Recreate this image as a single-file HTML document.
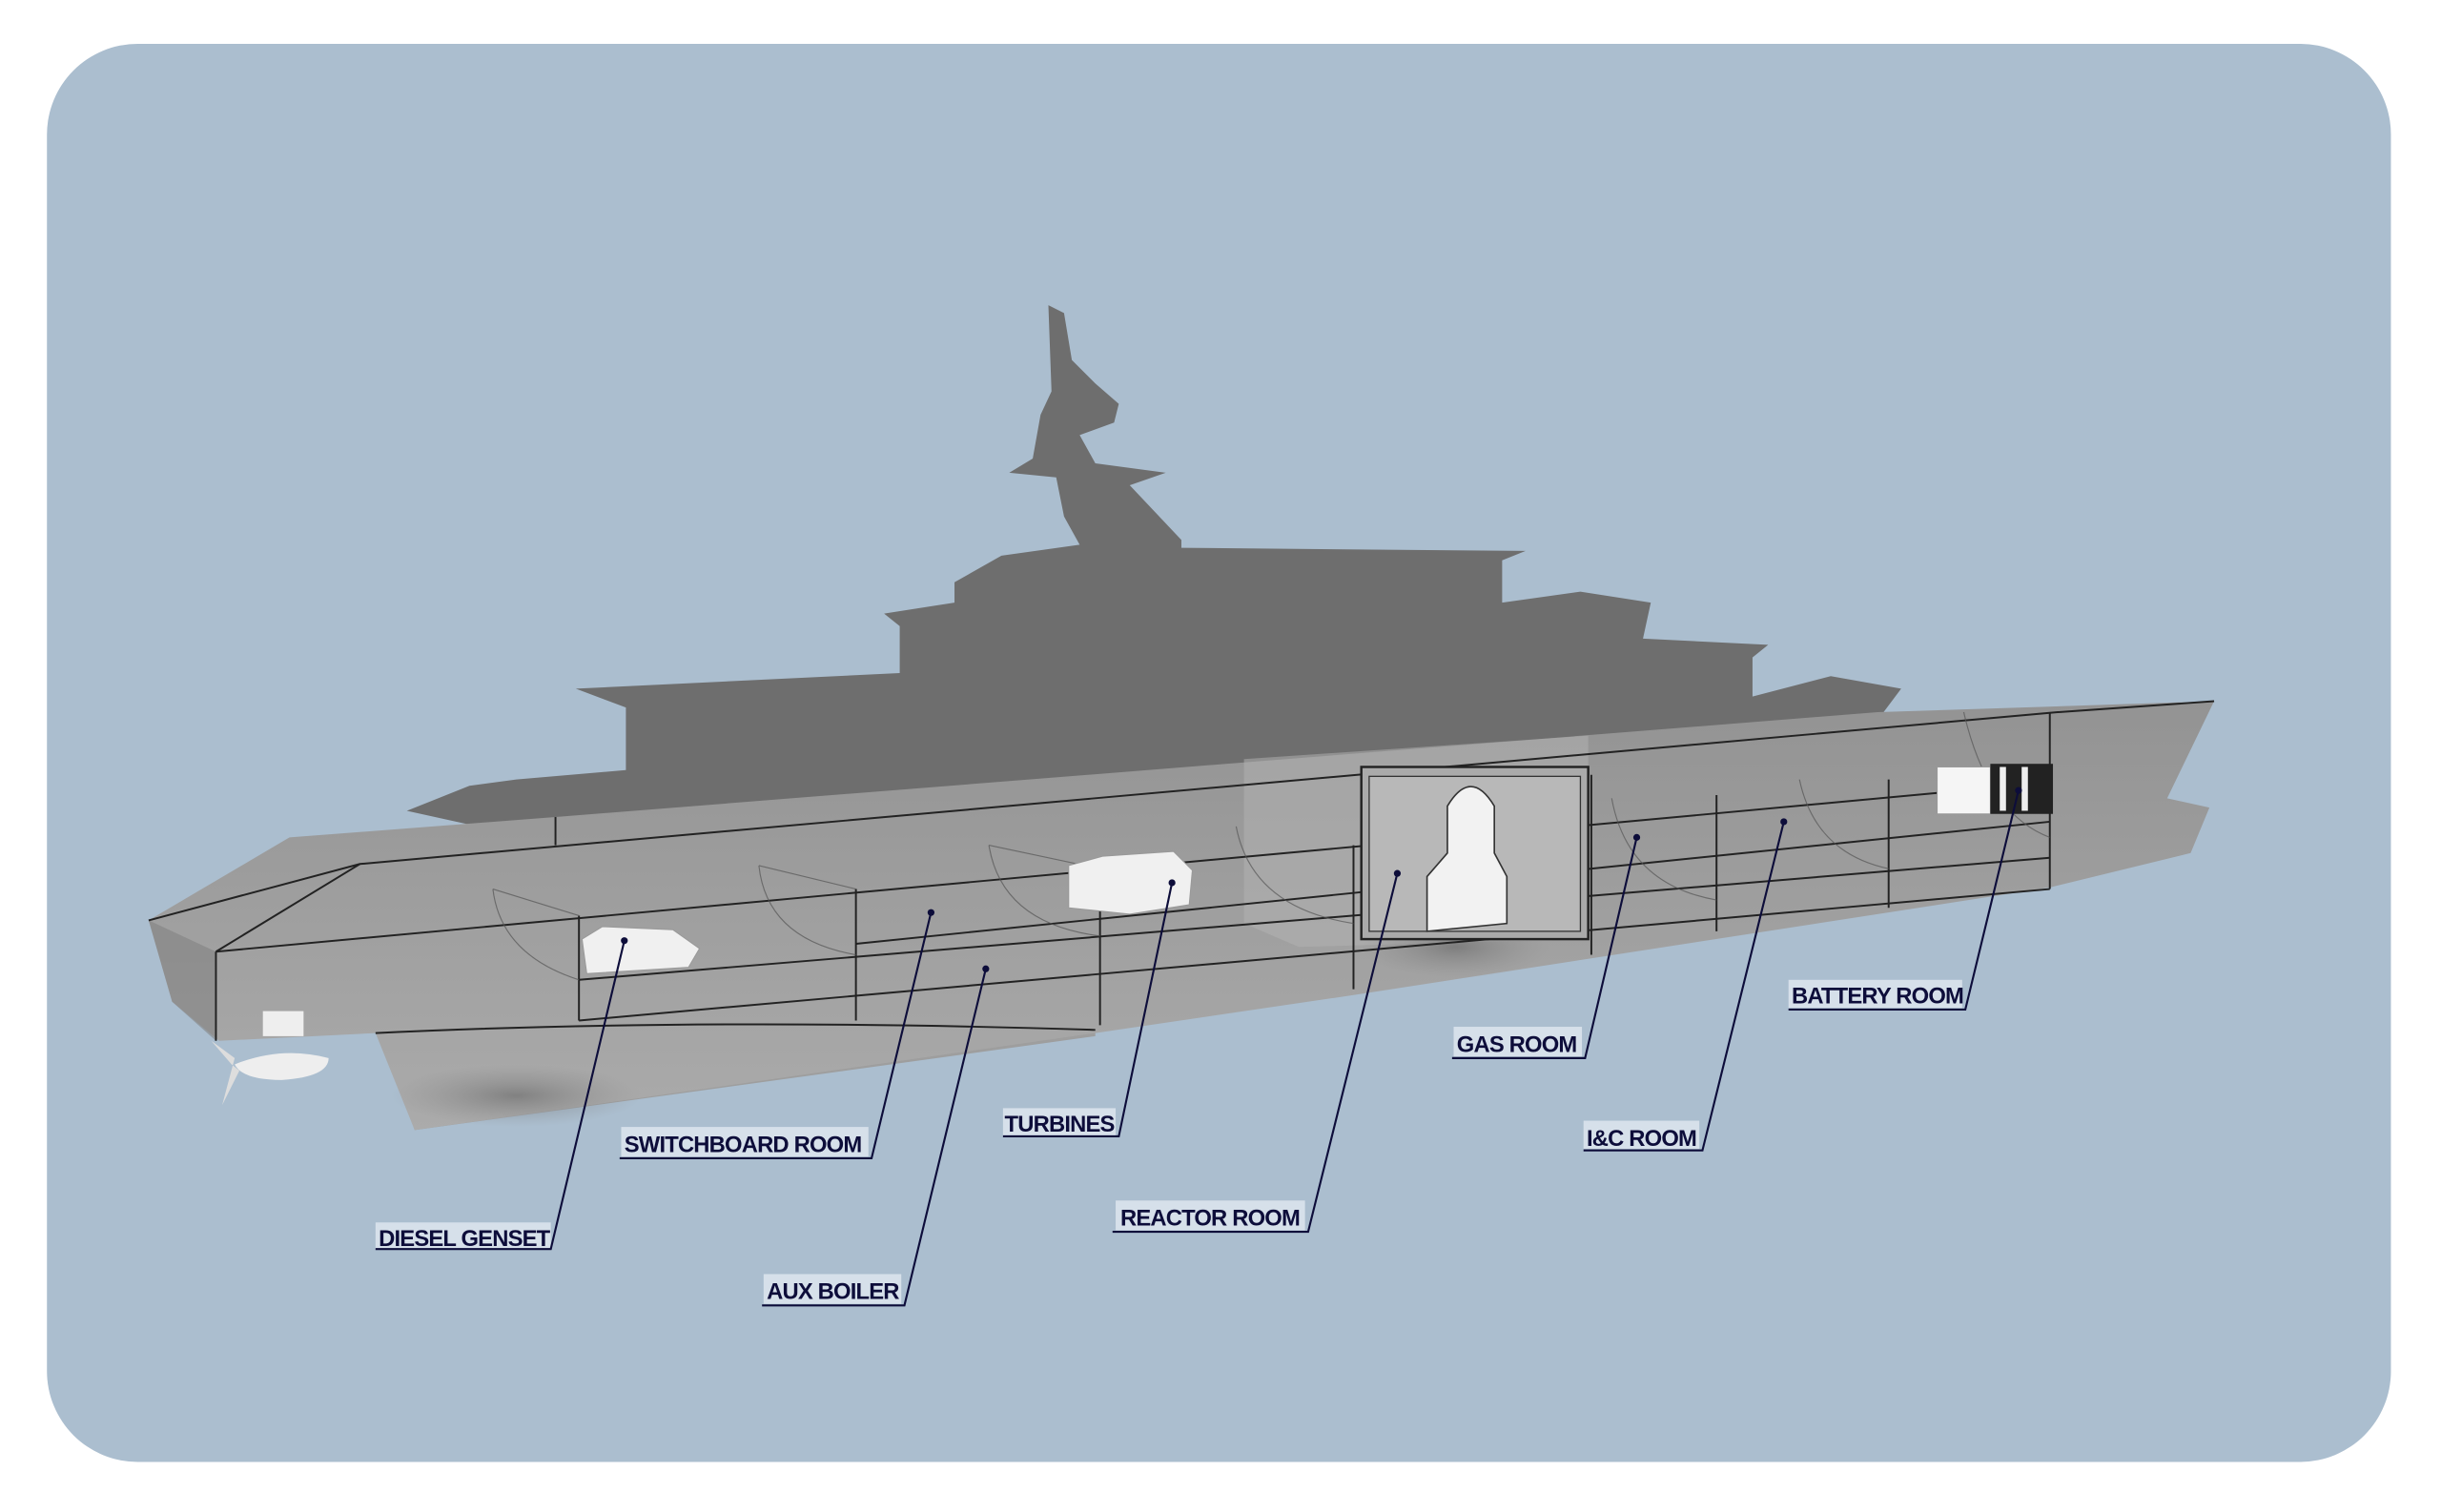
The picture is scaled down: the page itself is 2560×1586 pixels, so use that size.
<!DOCTYPE html>
<html><head><style>
html,body{margin:0;padding:0;background:#fff;width:2560px;height:1586px;overflow:hidden}
svg{display:block}
text{font-family:"Liberation Sans",sans-serif;font-weight:bold;font-size:14.5px;fill:#0d0d3a;letter-spacing:-0.5px}
</style></head><body>
<svg width="2560" height="1586" viewBox="0 0 1560 966" preserveAspectRatio="none">
<defs>
<linearGradient id="hg" x1="0" y1="0" x2="0" y2="1">
<stop offset="0" stop-color="#939393"/><stop offset="1" stop-color="#ababab"/></linearGradient>
<radialGradient id="sh" cx="0.5" cy="0.5" r="0.5"><stop offset="0" stop-color="#666" stop-opacity="0.6"/><stop offset="1" stop-color="#888" stop-opacity="0"/></radialGradient>
</defs>
<rect x="30" y="28" width="1498" height="906" rx="58" fill="#abbecf"/>
<polygon points="240,655 700,640 700,662 265,722" fill="#9e9e9e"/>
<polygon fill="#6e6e6e" points="260,518 300,502 330,498 400,492 400,452 368,440 575,430 575,400 565,392 610,385 610,372 640,355 690,348 680,330 675,305 645,302 660,293 665,265 672,250 670,195 680,200 685,230 700,245 715,258 712,270 690,278 700,296 745,302 722,310 755,345 755,350 975,352 960,358 960,385 1010,378 1055,385 1050,408 1130,412 1120,420 1120,445 1170,432 1215,440 1200,460 1200,468 360,540"/>
<polygon fill="url(#hg)" points="95,588 185,535 355,522 1200,455 1415,448 1385,510 1412,516 1400,545 1310,567 870,635 700,660 265,722 240,660 140,665 110,640"/>
<polygon fill="#7f7f7f" opacity="0.55" points="95,588 138,608 138,665 110,640"/>
<polygon fill="#b4b4b4" opacity="0.5" points="795,485 1015,470 1015,600 830,605 795,590"/>
<ellipse cx="930" cy="605" rx="60" ry="20" fill="url(#sh)"/>
<ellipse cx="330" cy="700" rx="80" ry="20" fill="url(#sh)"/>
<g stroke="#222" stroke-width="1.2" fill="none">
<polyline points="95,588 230,552 1315,455 1415,448"/>
<polyline points="138,608 230,552"/>
<polyline points="138,608 1310,500"/>
<polyline points="138,608 138,665"/>
<polyline points="370,626 1310,548"/>
<polyline points="370,652 1310,568"/>
<polyline points="547,603 1310,525"/>
<path d="M240,660 Q450,650 700,658"/>
<line x1="370" y1="585" x2="370" y2="652"/>
<line x1="547" y1="568" x2="547" y2="652"/>
<line x1="703" y1="555" x2="703" y2="655"/>
<line x1="865" y1="540" x2="865" y2="632"/>
<line x1="1017" y1="495" x2="1017" y2="610"/>
<line x1="1097" y1="508" x2="1097" y2="595"/>
<line x1="1207" y1="498" x2="1207" y2="580"/>
<line x1="1310" y1="455" x2="1310" y2="568"/>
<line x1="355" y1="522" x2="355" y2="540"/>
</g>
<g stroke="#555" stroke-width="0.7" fill="none" opacity="0.7">
<path d="M315,568 Q320,610 370,626"/><path d="M485,553 Q490,600 547,610"/><path d="M632,540 Q640,590 703,598"/>
<path d="M790,528 Q800,580 865,590"/><path d="M1030,510 Q1040,565 1097,575"/><path d="M1150,498 Q1160,545 1207,555"/>
<path d="M1255,455 Q1270,520 1310,535"/>
<line x1="315" y1="568" x2="370" y2="585"/><line x1="485" y1="553" x2="547" y2="568"/><line x1="632" y1="540" x2="703" y2="555"/>
</g>
<rect x="870" y="490" width="145" height="110" fill="#aaa" stroke="#222" stroke-width="1.5"/>
<rect x="875" y="496" width="135" height="99" fill="#b8b8b8" stroke="#333" stroke-width="0.8"/>
<path d="M925,545 L925,515 Q940,490 955,515 L955,545 L963,560 L963,590 L912,595 L912,560 Z" fill="#f2f2f2" stroke="#333" stroke-width="1"/>
<path d="M372,600 L385,592 L430,594 L447,606 L440,618 L375,622 Z" fill="#f0f0f0" stroke="#999" stroke-width="0.6"/>
<path d="M683,553 L705,547 L750,544 L762,556 L760,578 L722,584 L683,580 Z" fill="#f0f0f0" stroke="#999" stroke-width="0.6"/>
<rect x="1238" y="490" width="34" height="30" fill="#f5f5f5" stroke="#999" stroke-width="0.6"/>
<rect x="1272" y="488" width="40" height="32" fill="#222"/>
<rect x="1278" y="490" width="4" height="28" fill="#eee"/><rect x="1292" y="490" width="4" height="28" fill="#eee"/>
<rect x="168" y="646" width="26" height="16" fill="#eee"/>
<path d="M150,680 Q180,668 210,676 Q210,688 180,690 Q155,690 150,680Z" fill="#eee"/>
<path d="M148,680 L135,665 L150,676 L142,706 L153,684Z" fill="#ddd"/>
<g fill="#d6e0ea">
<rect x="240" y="781" width="112" height="17"/><rect x="397" y="720" width="158" height="19"/>
<rect x="488" y="814" width="88" height="19"/><rect x="641" y="708" width="72" height="18"/>
<rect x="713" y="767" width="121" height="19"/><rect x="929" y="656" width="82" height="19"/>
<rect x="1012" y="716" width="74" height="18"/><rect x="1143" y="626" width="111" height="18"/>
</g>
<g stroke="#0d0d3a" stroke-width="1.3" fill="none">
<polyline points="240,798 352,798 399,601"/>
<polyline points="396,740 557,740 595,583"/>
<polyline points="487,834 578,834 630,619"/>
<polyline points="641,726 715,726 749,564"/>
<polyline points="711,787 836,787 893,558"/>
<polyline points="928,676 1013,676 1046,535"/>
<polyline points="1012,735 1088,735 1140,525"/>
<polyline points="1143,645 1256,645 1290,505"/>
</g>
<g fill="#0d0d3a">
<circle cx="399" cy="601" r="2.2"/><circle cx="595" cy="583" r="2.2"/><circle cx="630" cy="619" r="2.2"/>
<circle cx="749" cy="564" r="2.2"/><circle cx="893" cy="558" r="2.2"/><circle cx="1046" cy="535" r="2.2"/>
<circle cx="1140" cy="525" r="2.2"/><circle cx="1290" cy="505" r="2.2"/>
</g>
<text x="242" y="796">DIESEL GENSET</text>
<text x="399" y="736">SWITCHBOARD ROOM</text>
<text x="490" y="830">AUX BOILER</text>
<text x="642" y="723">TURBINES</text>
<text x="716" y="783">REACTOR ROOM</text>
<text x="931" y="672">GAS ROOM</text>
<text x="1014" y="732">I&amp;C ROOM</text>
<text x="1145" y="641">BATTERY ROOM</text>
</svg>
</body></html>
